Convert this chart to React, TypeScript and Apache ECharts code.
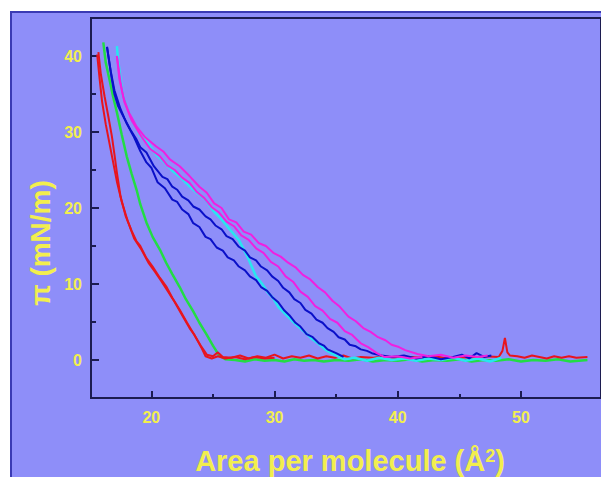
import React, { useEffect, useRef } from "react";
import * as echarts from "echarts";

// Tick labels
const xTickValues = [20, 30, 40, 50];
const xMinorTickValues = [25, 35, 45];
const yTickValues = [0, 10, 20, 30, 40];
const yMinorTickValues = [5, 15, 25, 35];

// Red isotherm (compression)
const redCompression: number[][] = [
  [15.7, 40.5], [15.9, 37.6], [16.2, 34.7], [16.5, 32.1], [16.8, 29.4], [17.0, 27.1], [17.2, 24.7],
  [17.5, 21.5], [17.9, 19.0], [18.4, 17.0], [18.8, 15.6], [19.1, 15.0], [19.6, 13.4], [20.1, 12.3],
  [20.7, 10.8], [21.2, 9.7], [21.7, 8.2], [22.3, 6.6], [22.9, 4.9], [23.6, 3.0], [24.0, 1.9],
  [24.5, 0.7], [25.0, 0.5], [25.4, 1.0], [25.8, 0.4], [26.5, 0.3], [27.2, 0.6], [27.9, 0.2],
  [28.6, 0.5], [29.3, 0.3], [30.0, 0.7], [30.7, 0.2], [31.4, 0.5], [32.1, 0.3], [32.8, 0.6],
  [33.5, 0.2], [34.2, 0.5], [34.9, 0.3], [35.6, 0.6], [36.3, 0.2], [37.0, 0.4], [38.0, 0.3],
  [39.0, 0.5], [40.0, 0.2], [41.0, 0.4], [42.0, 0.3], [43.0, 0.5], [44.0, 0.2], [45.0, 0.4],
  [46.0, 0.3], [47.0, 0.5], [48.2, 0.4], [48.5, 1.2], [48.7, 2.9], [48.9, 1.0], [49.1, 0.6],
  [49.7, 0.5], [50.3, 0.3], [50.9, 0.6], [51.5, 0.4], [52.1, 0.2], [52.7, 0.5], [53.3, 0.3],
  [53.9, 0.5], [54.5, 0.3], [55.4, 0.4],
];

// Red isotherm (expansion)
const redExpansion: number[][] = [
  [15.6, 40.2], [15.8, 37.0], [16.0, 34.0], [16.3, 31.0], [16.6, 28.5], [16.9, 26.0], [17.2, 23.5],
  [17.6, 20.8], [18.1, 18.2], [18.6, 16.0], [19.2, 14.5], [19.8, 12.7], [20.3, 11.6], [20.8, 10.4],
  [21.4, 8.9], [21.9, 7.6], [22.5, 5.9], [23.1, 4.2], [23.5, 3.3], [24.1, 1.5], [24.4, 0.5],
  [24.9, 0.2], [25.4, 0.5], [26.0, 0.2], [26.8, 0.4], [27.6, 0.1], [28.4, 0.4], [29.2, 0.2], [30.0, 0.3],
];

// Green isotherm
const greenCurve: number[][] = [
  [16.1, 41.8], [16.3, 39.1], [16.6, 36.9], [16.9, 34.6], [17.2, 32.6], [17.6, 29.6], [18.0, 26.8],
  [18.4, 24.5], [18.8, 22.4], [19.1, 20.5], [19.6, 18.1], [20.1, 16.2], [20.7, 14.5], [21.2, 12.8],
  [21.7, 11.3], [22.3, 9.6], [22.8, 8.0], [23.4, 6.4], [23.9, 4.9], [24.5, 3.3], [25.0, 1.9],
  [25.5, 0.6], [26.0, 0.1], [26.8, 0.0], [27.6, -0.2], [28.4, 0.1], [29.2, -0.1], [30.0, 0.0],
  [30.8, -0.2], [31.6, 0.1], [32.4, -0.1], [33.2, 0.0], [34.0, -0.2], [35.0, 0.0], [36.0, -0.1],
  [37.0, 0.1], [38.0, -0.2], [39.0, 0.0], [40.0, -0.1], [41.0, 0.1], [42.0, -0.2], [43.0, 0.0],
  [44.0, -0.1], [45.0, 0.1], [46.0, -0.2], [47.0, 0.0], [48.0, -0.1], [49.0, 0.1], [50.0, -0.2],
  [51.0, 0.0], [52.0, -0.1], [53.0, 0.1], [54.0, -0.2], [55.4, 0.0],
];

// Cyan isotherm
const cyanCurve: number[][] = [
  [17.2, 41.3], [17.3, 39.5], [17.5, 37.0], [17.7, 34.7], [18.4, 31.6], [19.1, 29.5], [19.6, 28.8],
  [20.4, 27.0], [21.0, 26.1], [21.7, 24.9], [22.4, 24.0], [23.0, 23.0], [23.7, 22.0], [24.4, 21.1],
  [25.0, 19.7], [25.7, 18.5], [26.4, 17.1], [27.1, 15.8], [27.8, 13.6], [28.5, 11.0], [29.0, 10.0],
  [29.4, 9.0], [29.9, 8.1], [30.3, 7.0], [30.9, 6.0], [31.4, 5.2], [32.0, 4.3], [32.5, 3.6],
  [33.1, 2.7], [33.6, 2.1], [34.1, 1.4], [34.6, 0.9], [35.2, 0.4], [35.7, 0.1], [36.5, 0.3],
  [37.5, -0.1], [38.5, 0.3], [39.5, 0.0], [40.5, 0.2], [41.5, -0.1], [42.5, 0.2], [43.5, 0.0],
  [44.5, 0.3], [45.5, -0.1], [46.5, 0.2], [47.5, -0.2], [48.4, 0.3],
];

// Blue isotherm (compression)
const blueCompression: number[][] = [
  [16.4, 41.2], [16.6, 39.0], [16.8, 36.9], [17.0, 35.0], [17.3, 33.4], [17.8, 31.8], [18.3, 30.3],
  [18.8, 29.0], [19.1, 28.0], [19.6, 27.3], [20.2, 25.5], [20.9, 24.1], [21.3, 23.8], [21.7, 22.8],
  [22.1, 22.4], [22.5, 21.5], [23.0, 21.0], [23.4, 20.2], [23.9, 19.8], [24.4, 18.9], [24.8, 18.5],
  [25.2, 17.7], [25.7, 17.2], [26.1, 16.3], [26.6, 15.9], [27.1, 14.9], [27.6, 14.4], [28.0, 13.5],
  [28.5, 13.1], [28.9, 12.3], [29.4, 11.8], [29.8, 11.0], [30.3, 10.4], [30.7, 9.5], [31.2, 8.9],
  [31.6, 8.0], [32.1, 7.5], [32.5, 6.6], [33.0, 6.1], [33.4, 5.3], [33.9, 4.9], [34.3, 4.2],
  [34.8, 3.7], [35.2, 3.0], [35.7, 2.7], [36.1, 2.0], [36.6, 1.8], [37.0, 1.4], [37.5, 1.2],
  [37.9, 0.9], [38.7, 0.6], [39.5, 0.4], [40.5, 0.6], [41.5, 0.2], [42.5, 0.5], [43.5, 0.1],
  [44.5, 0.4], [45.2, 0.7], [45.8, 0.2], [46.4, 0.9], [47.0, 0.4], [47.6, 0.6],
];

// Blue isotherm (expansion)
const blueExpansion: number[][] = [
  [16.4, 41.2], [16.7, 38.0], [17.0, 35.5], [17.5, 33.0], [18.0, 31.1], [18.6, 29.3], [19.1, 27.5],
  [19.6, 26.0], [20.0, 25.3], [20.5, 23.4], [21.1, 22.6], [21.7, 21.1], [22.1, 20.8], [22.5, 19.8],
  [23.0, 19.2], [23.4, 18.0], [23.9, 17.5], [24.4, 16.2], [24.8, 15.9], [25.3, 14.8], [25.8, 14.4],
  [26.2, 13.5], [26.7, 13.1], [27.1, 12.3], [27.6, 11.8], [28.0, 11.0], [28.5, 10.5], [28.9, 9.6],
  [29.4, 9.1], [29.8, 8.3], [30.3, 7.6], [30.8, 6.5], [31.2, 5.9], [31.7, 4.9], [32.1, 4.4],
  [32.6, 3.4], [33.1, 3.0], [33.6, 2.2], [34.0, 1.9], [34.3, 1.4], [35.0, 0.9], [35.6, 0.4],
];

// Magenta isotherm (upper branch)
const magentaUpper: number[][] = [
  [17.2, 40.0], [17.4, 37.0], [17.7, 34.7], [18.2, 32.5], [18.8, 30.7], [19.5, 29.3], [20.4, 28.1],
  [21.0, 27.4], [21.5, 26.4], [22.3, 25.5], [23.1, 24.2], [23.9, 22.8], [24.5, 22.0], [25.1, 20.6],
  [25.7, 20.0], [26.3, 18.5], [26.9, 18.1], [27.5, 16.9], [28.1, 16.5], [28.7, 15.4], [29.3, 15.0],
  [29.9, 14.1], [30.5, 13.6], [31.1, 12.8], [31.7, 12.2], [32.3, 11.2], [32.9, 10.6], [33.5, 9.6],
  [34.1, 8.9], [34.7, 7.8], [35.3, 7.0], [36.0, 5.7], [36.6, 5.1], [37.2, 4.2], [37.8, 3.7],
  [38.4, 3.0], [39.0, 2.6], [39.5, 2.0], [40.1, 1.7], [40.6, 1.3], [41.6, 0.8], [42.5, 0.5],
  [43.5, 0.7], [44.5, 0.3], [45.5, 0.6], [46.5, 0.4], [47.3, 0.6],
];

// Magenta isotherm (lower branch)
const magentaLower: number[][] = [
  [17.2, 40.0], [17.5, 36.5], [17.8, 34.0], [18.4, 31.5], [19.1, 29.6], [19.9, 27.8], [20.7, 26.8],
  [21.3, 25.6], [21.9, 25.0], [22.5, 24.0], [23.1, 23.3], [23.7, 22.1], [24.3, 21.3], [24.9, 20.1],
  [25.5, 19.4], [26.1, 18.2], [26.7, 17.6], [27.3, 16.4], [27.9, 15.8], [28.5, 14.7], [29.1, 14.1],
  [29.7, 12.9], [30.3, 12.3], [30.9, 11.0], [31.5, 10.3], [32.1, 9.0], [32.7, 8.3], [33.3, 7.1],
  [33.9, 6.5], [34.5, 5.4], [35.1, 4.9], [35.7, 3.8], [36.3, 3.3], [37.0, 2.2], [37.6, 1.7],
  [38.3, 0.9], [38.9, 0.4], [40.0, 0.5], [41.0, 0.2], [42.0, 0.4],
];

const AXIS_COLOR = "#1c1c50";
const TEXT_COLOR = "#f2ee4e";
const PANEL_COLOR = "#8e8ef9";
const FONT = "'Liberation Sans', Arial, sans-serif";

export default function App() {
  const ref = useRef<HTMLDivElement>(null);

  useEffect(() => {
    if (!ref.current) return;
    const chart = echarts.init(ref.current, null, { renderer: "svg" });

    const line = (data: number[][], color: string, width = 2) => ({
      type: "line",
      data,
      showSymbol: false,
      symbol: "none",
      lineStyle: { color, width },
      itemStyle: { color },
      xAxisIndex: 0,
      yAxisIndex: 0,
      clip: true,
      z: 3,
    });

    chart.setOption({
      animation: false,
      backgroundColor: "#ffffff",
      graphic: [
        {
          type: "rect",
          z: -10,
          shape: { x: 11, y: 12, width: 600, height: 470 },
          style: { fill: PANEL_COLOR, stroke: "#3a3ab4", lineWidth: 2 },
        },
        {
          type: "text",
          x: 40,
          y: 243,
          rotation: Math.PI / 2,
          style: {
            text: "π (mN/m)",
            fill: TEXT_COLOR,
            font: `bold 28px ${FONT}`,
            align: "center",
            verticalAlign: "middle",
          },
        },
        {
          type: "text",
          x: 350,
          y: 461,
          style: {
            text: "Area per molecule (Å{sup|2})",
            fill: TEXT_COLOR,
            font: `bold 29px ${FONT}`,
            align: "center",
            verticalAlign: "middle",
            rich: {
              sup: {
                fill: TEXT_COLOR,
                font: `bold 18px ${FONT}`,
                verticalAlign: "top",
              },
            },
          },
        },
      ],
      grid: {
        left: 91,
        top: 18,
        width: 514,
        height: 380,
        show: true,
        borderColor: AXIS_COLOR,
        borderWidth: 2,
        backgroundColor: "transparent",
      },
      xAxis: [
        {
          type: "value",
          min: 15.1,
          max: 56.5,
          position: "bottom",
          axisLine: { show: true, onZero: false, lineStyle: { color: AXIS_COLOR, width: 2 } },
          axisTick: {
            show: true,
            inside: true,
            length: 7,
            customValues: xTickValues,
            lineStyle: { color: AXIS_COLOR, width: 2 },
          },
          axisLabel: {
            customValues: xTickValues,
            color: TEXT_COLOR,
            fontWeight: "bold",
            fontSize: 16,
            fontFamily: FONT,
            margin: 11,
          },
          splitLine: { show: false },
        },
        {
          type: "value",
          min: 15.1,
          max: 56.5,
          position: "bottom",
          axisLine: { show: false, onZero: false },
          axisTick: {
            show: true,
            inside: true,
            length: 4,
            customValues: xMinorTickValues,
            lineStyle: { color: AXIS_COLOR, width: 2 },
          },
          axisLabel: { show: false },
          splitLine: { show: false },
        },
      ],
      yAxis: [
        {
          type: "value",
          min: -5,
          max: 45,
          position: "left",
          axisLine: { show: true, onZero: false, lineStyle: { color: AXIS_COLOR, width: 2 } },
          axisTick: {
            show: true,
            inside: true,
            length: 8,
            customValues: yTickValues,
            lineStyle: { color: AXIS_COLOR, width: 2 },
          },
          axisLabel: {
            customValues: yTickValues,
            color: TEXT_COLOR,
            fontWeight: "bold",
            fontSize: 16,
            fontFamily: FONT,
            margin: 9,
          },
          splitLine: { show: false },
        },
        {
          type: "value",
          min: -5,
          max: 45,
          position: "left",
          axisLine: { show: false, onZero: false },
          axisTick: {
            show: true,
            inside: true,
            length: 5,
            customValues: yMinorTickValues,
            lineStyle: { color: AXIS_COLOR, width: 2 },
          },
          axisLabel: { show: false },
          splitLine: { show: false },
        },
      ],
      series: [
        line(greenCurve, "#22dd44", 2.5),
        line(redExpansion, "#e8141e"),
        line(redCompression, "#e8141e"),
        line(cyanCurve, "#28e6f0", 2.5),
        line(blueExpansion, "#0a10c8"),
        line(blueCompression, "#0a10c8"),
        line(magentaLower, "#f020e0"),
        line(magentaUpper, "#f020e0"),
      ],
    });

    return () => chart.dispose();
  }, []);

  return (
    <div
      ref={ref}
      style={{ position: "fixed", left: 0, top: 0, width: 601, height: 477 }}
    />
  );
}
